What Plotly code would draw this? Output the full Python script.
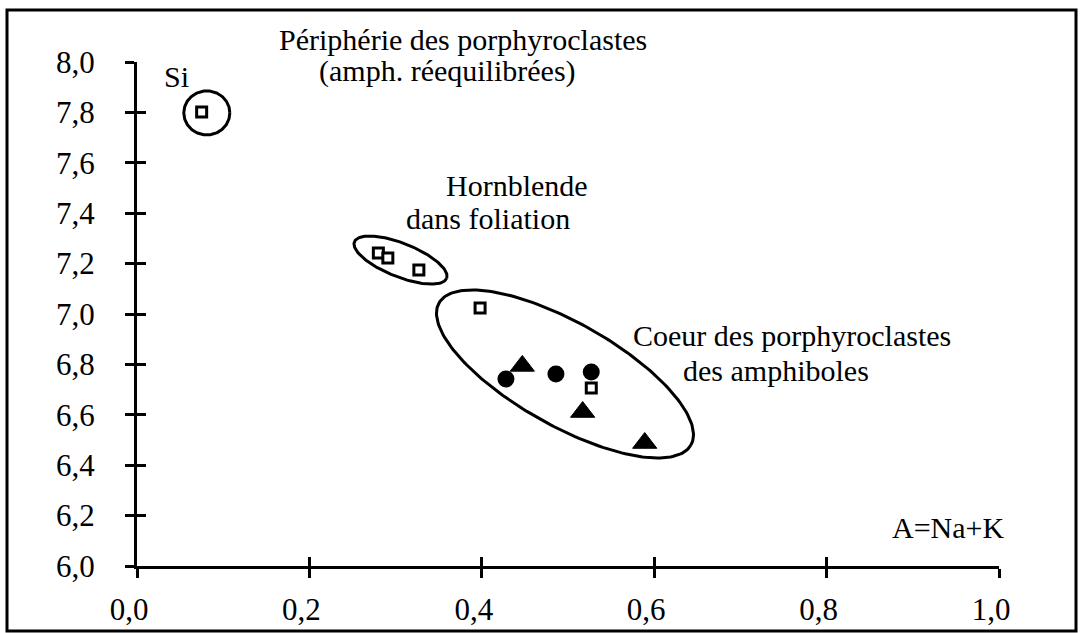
import numpy as np
import plotly.graph_objects as go

# ---- data ----
sq_x = [0.075, 0.280, 0.291, 0.327, 0.398, 0.527]
sq_y = [7.802, 7.242, 7.222, 7.175, 7.024, 6.706]
ci_x = [0.428, 0.486, 0.527]
ci_y = [6.742, 6.762, 6.770]
tr_x = [0.447, 0.517, 0.589]
tr_y = [6.794, 6.611, 6.488]

x_tickvals = [0.0, 0.2, 0.4, 0.6, 0.8, 1.0]
x_ticktext = ["0,0", "0,2", "0,4", "0,6", "0,8", "1,0"]
y_tickvals = [6.0, 6.2, 6.4, 6.6, 6.8, 7.0, 7.2, 7.4, 7.6, 7.8, 8.0]
y_ticktext = ["6,0", "6,2", "6,4", "6,6", "6,8", "7,0", "7,2", "7,4", "7,6", "7,8", "8,0"]

# group outlines: centre (data), semi-axes (px), tilt (deg)
ell_cx = [0.081, 0.3057, 0.4965]
ell_cy = [7.798, 7.214, 6.762]
ell_a = [23, 49.6, 144.6]
ell_b = [22, 16.8, 51.6]
ell_ang = [0, 21.6, 29.4]

# ---- layout geometry ----
W, H = 1080, 633
ML, MR, MT, MB = 137, 81, 62, 67
PW, PH = W - ML - MR, H - MT - MB
PXX = PW / 1.0
PXY = PH / 2.0
FONT = "Liberation Serif"
FS_TICK = 31
FS_TXT = 30

fig = go.Figure()

# ellipses
t = np.linspace(0, 2 * np.pi, 200)
for cx, cy, a, b, ang in zip(ell_cx, ell_cy, ell_a, ell_b, ell_ang):
    th = np.radians(ang)
    dx = a * np.cos(t) * np.cos(th) - b * np.sin(t) * np.sin(th)
    dy = a * np.cos(t) * np.sin(th) + b * np.sin(t) * np.cos(th)
    fig.add_trace(go.Scatter(x=cx + dx / PXX, y=cy - dy / PXY, mode="lines",
                             line=dict(color="black", width=3), hoverinfo="skip",
                             showlegend=False))

fig.add_trace(go.Scatter(x=sq_x, y=sq_y, mode="markers", showlegend=False,
                         marker=dict(symbol="square", size=10, color="white",
                                     line=dict(color="black", width=3))))
fig.add_trace(go.Scatter(x=ci_x, y=ci_y, mode="markers", showlegend=False,
                         marker=dict(symbol="circle", size=17, color="black",
                                     line=dict(width=0))))
fig.add_trace(go.Scatter(x=tr_x, y=tr_y, mode="markers", showlegend=False,
                         marker=dict(symbol="triangle-up", size=21, color="black",
                                     line=dict(color="black", width=1))))
# invisible companion trace on the overlay axes (gives the crossing inner ticks)
fig.add_trace(go.Scatter(x=tr_x, y=tr_y, mode="markers", showlegend=False,
                         xaxis="x2", yaxis="y2", hoverinfo="skip",
                         marker=dict(symbol="circle", size=2, color="white", opacity=0)))

axis_common = dict(showgrid=False, zeroline=False, linecolor="black", linewidth=3,
                   tickcolor="black", tickwidth=3, ticklen=9, automargin=False,
                   tickfont=dict(family=FONT, size=FS_TICK, color="black"))

fig.update_layout(
    width=W, height=H,
    margin=dict(l=ML, r=MR, t=MT, b=MB, pad=0, autoexpand=False),
    paper_bgcolor="white", plot_bgcolor="white",
    xaxis=dict(range=[0, 1], tickvals=x_tickvals, ticktext=x_ticktext, showline=True,
               ticks="outside", ticklabelstandoff=5, ticklabelshift=-8, **axis_common),
    yaxis=dict(range=[6, 8], tickvals=y_tickvals, ticktext=y_ticktext, showline=True,
               ticks="outside", ticklabelstandoff=24, **axis_common),
    xaxis2=dict(range=[0, 1], tickvals=x_tickvals, overlaying="x", anchor="y2",
                showticklabels=False, showline=False, ticks="inside", **axis_common),
    yaxis2=dict(range=[6, 8], tickvals=y_tickvals, overlaying="y", anchor="x2",
                showticklabels=False, showline=False, ticks="inside", **axis_common),
    showlegend=False,
)

def pxp(px):
    return (px - ML) / PW

def pyp(py):
    return (H - MB - py) / PH

texts = [
    ("Si", 162, 76, "left"),
    ("Périphérie des porphyroclastes", 463, 40, "center"),
    ("(amph. réequilibrées)", 447, 71, "center"),
    ("Hornblende", 517, 185, "center"),
    ("dans foliation", 488, 218, "center"),
    ("Coeur des porphyroclastes", 792, 335, "center"),
    ("des amphiboles", 776, 370, "center"),
    ("A=Na+K", 948, 527, "center"),
]
for txt, px, py, anc in texts:
    fig.add_annotation(x=pxp(px), y=pyp(py), xref="paper", yref="paper", text=txt,
                       showarrow=False, xanchor=anc, yanchor="middle",
                       font=dict(family=FONT, size=FS_TXT, color="black"))

# outer frame
fig.add_shape(type="rect", xref="paper", yref="paper",
              x0=pxp(7), x1=pxp(1076), y0=pyp(631), y1=pyp(10),
              line=dict(color="black", width=3))

fig.write_html("out.html", config={"displayModeBar": False})

# remove the default page margin so the figure sits at the window origin
with open("out.html", "r", encoding="utf-8") as f:
    html = f.read()
html = html.replace("<head>", "<head><style>html,body{margin:0;padding:0;overflow:hidden;}</style>", 1)
with open("out.html", "w", encoding="utf-8") as f:
    f.write(html)
